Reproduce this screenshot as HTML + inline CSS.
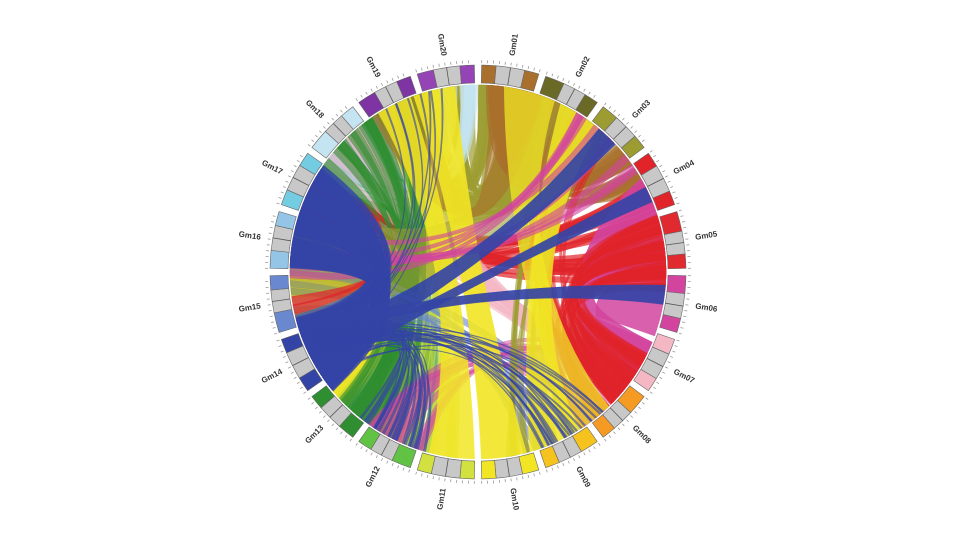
<!DOCTYPE html>
<html><head><meta charset="utf-8"><style>
html,body{margin:0;padding:0;background:#fff;width:960px;height:540px;overflow:hidden}
</style></head><body>
<svg id="s" width="960" height="540" xmlns="http://www.w3.org/2000/svg"></svg>
<script>
var S=document.getElementById('s'),NS='http://www.w3.org/2000/svg';
var cx=478,cy=272,ky=0.995;
function P(r,a){a=a*Math.PI/180;return [cx+r*Math.sin(a),cy-r*Math.cos(a)*ky];}
function el(t,at,par){var e=document.createElementNS(NS,t);for(var k in at)e.setAttribute(k,at[k]);(par||S).appendChild(e);return e;}
var cols=['#a8702c','#6a6a26','#9c9c32','#e0242a','#e02a30','#d2449e','#f4b8c4','#f59a22','#f5c21e','#f2e624','#d2e040','#62c244','#2e8e30','#3444a6','#6a88d0','#94c4e6','#74cce2','#c4e4f2','#7e34a2','#9444b4'];
var R=188;
var seed=7;function rnd(){seed=(seed*16807)%2147483647;return seed/2147483647;}
function ribbon(a1,a2,b1,b2,c,op,k){
 var p1=P(R,a1),p2=P(R,a2),q1=P(R,b1),q2=P(R,b2);k=k||0.15;
 var c1=P(R*k,(a2+b1)/2),c2=P(R*k,(b2+a1)/2);
 var d='M'+p1+' A'+R+','+R*ky+' 0 0,1 '+p2+' Q'+[cx+(c1[0]-cx)*0.5,cy+(c1[1]-cy)*0.5]+' '+q1+' A'+R+','+R*ky+' 0 0,1 '+q2+' Q'+[cx+(c2[0]-cx)*0.5,cy+(c2[1]-cy)*0.5]+' '+p1+'Z';
 el('path',{d:d,fill:c,'fill-opacity':op||0.75,stroke:c,'stroke-opacity':0.5,'stroke-width':0.5});
}
function fan(a1,a2,b1,b2,c,n,w,op){for(var i=0;i<n;i++){var a=a1+(a2-a1)*rnd(),b=b1+(b2-b1)*rnd();ribbon(a,a+w,b,b+w,c,op||0.6,0.1+rnd()*0.3);}}
// background fill textures
fan(0,40,300,355,'#9c9c32',40,4,0.7);
fan(2,20,20,62,'#a8702c',30,3,0.7);
fan(300,340,195,240,'#2e8e30',30,3,0.65);
fan(340,358,300,330,'#c4e4f2',12,3,0.6);
fan(300,320,330,350,'#94c4e6',10,3,0.6);
fan(275,300,60,90,'#e0242a',20,3,0.7);
fan(262,285,200,235,'#f2e624',14,3,0.6);
fan(120,130,290,335,'#f4b8c4',16,3,0.6);
fan(325,345,185,215,'#d2e040',16,3,0.6);
fan(205,225,300,340,'#2e8e30',20,3,0.6);
fan(140,165,250,275,'#6a88d0',10,2,0.6);
fan(130,145,20,45,'#e0242a',14,2,0.6);
fan(195,215,120,150,'#d2449e',10,3,0.5);
fan(150,170,20,40,'#9c9c32',12,2,0.6);
// big ribbons
ribbon(60,90,112,134,'#d2449e',0.9,0.55);
ribbon(88,110,112,122,'#d2449e',0.85,0.7);
fan(72,95,115,140,'#e0242a',35,2.5,0.65);
ribbon(20,44,255,292,'#9c9c32',0.6,0.2);
ribbon(4,20,326,344,'#a8702c',0.6,0.6);
ribbon(340,353,165,179,'#f2e624',0.9,0.05);
ribbon(328,339,181,195,'#f2e624',0.85,0.1);
ribbon(26,40,148,164,'#f2e624',0.85,0.4);
ribbon(8,24,136,150,'#f2e624',0.75,0.3);
fan(284,298,255,300,'#e0242a',8,3,0.7);
fan(268,282,30,70,'#d2449e',8,2.5,0.6);
// blue
fan(230,254,270,302,'#3444a6',80,3,0.6);
ribbon(240,250,40,47,'#3444a6',0.92,0.05);
ribbon(237,242,63,68,'#3444a6',0.92,0.05);
ribbon(248,253,94,100,'#3444a6',0.92,0.1);
fan(235,250,138,160,'#3444a6',25,0.6,0.6);
fan(236,252,196,220,'#3444a6',25,0.8,0.6);
fan(240,250,330,350,'#3444a6',8,0.5,0.6);
// chromosome ring
var g=el('g',{});
for(var i=0;i<20;i++){
 var a0=i*18+1,a1=i*18+17,r1=190,r2=208;
 function seg(b0,b1,col){var p=P(r1,b0),q=P(r2,b0),u=P(r2,b1),v=P(r1,b1);
  el('path',{d:'M'+p+' L'+q+' A'+r2+','+r2*ky+' 0 0,1 '+u+' L'+v+' A'+r1+','+r1*ky+' 0 0,0 '+p+'Z',fill:col,stroke:'#666','stroke-width':0.6},g);}
 var f=(i*37%10)/10;
 seg(a0,a0+4+f*2,cols[i]);seg(a0+4+f*2,a1-4,'#c8c8c8');
 var m=(a0+4+f*2+a1-4)/2;var pm=P(r1,m),qm=P(r2,m);el('line',{x1:pm[0],y1:pm[1],x2:qm[0],y2:qm[1],stroke:'#555','stroke-width':0.8},g);
 seg(a1-4,a1,cols[i]);
 for(var t=a0;t<=a1;t+=1.6){var p=P(210,t),q=P(213,t);el('line',{x1:p[0],y1:p[1],x2:q[0],y2:q[1],stroke:'#999','stroke-width':0.8},g);}
 var ang=i*18+9,right=ang<180;
 var lp=P(220,ang);var rot=right?ang-90:ang-270;
 var lab='Gm'+(i<9?'0':'')+(i+1);
 el('text',{x:lp[0],y:lp[1],'font-family':'Liberation Sans,sans-serif','font-size':8,'font-weight':'bold',fill:'#333','text-anchor':right?'start':'end','dominant-baseline':'middle',transform:'rotate('+rot+' '+lp[0]+' '+lp[1]+')'},g).textContent=lab;
}
</script>
</body></html>
